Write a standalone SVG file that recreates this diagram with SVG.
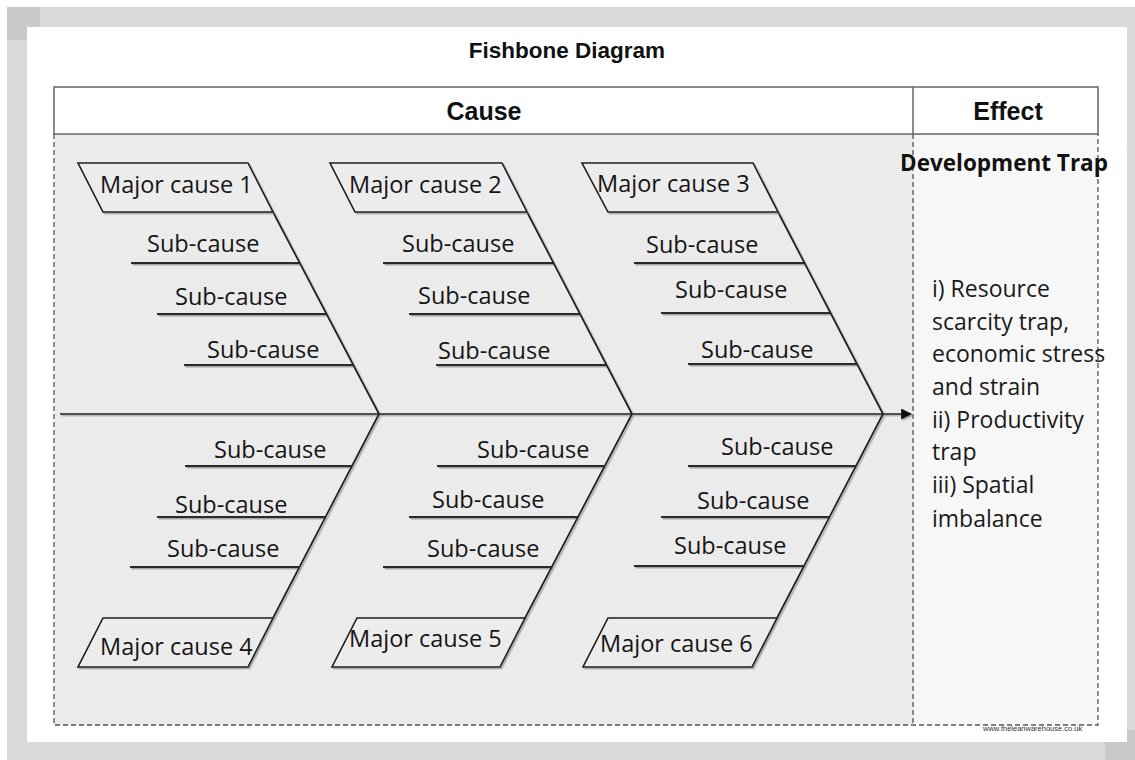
<svg xmlns="http://www.w3.org/2000/svg" width="1135" height="760" viewBox="0 0 1135 760">
<style>
.bone{stroke:#1e1e1e;stroke-width:1.7;fill:none}
.sub{stroke:#2a2a2a;stroke-width:2;fill:none}
.para{fill:#ececec;stroke:#1e1e1e;stroke-width:1.6}
.lbl{font-family:"Open Sans",sans-serif;font-size:23.5px;fill:#151515}
.eff{font-family:"Open Sans",sans-serif;font-size:23px;fill:#1a1a1a}
.hdr{font-family:"Liberation Sans",Arial,sans-serif;font-weight:bold;fill:#111}
.dash{stroke:#555;stroke-width:1.3;stroke-dasharray:5 3;fill:none}
</style>
<defs>
<filter id="sh" x="-5%" y="-5%" width="110%" height="110%">
<feDropShadow dx="1.5" dy="1.5" stdDeviation="0.7" flood-color="#777" flood-opacity="0.6"/>
</filter>
<marker id="arr" viewBox="0 0 10 10" refX="9" refY="5" markerWidth="11" markerHeight="11" markerUnits="userSpaceOnUse" orient="auto">
<path d="M0,0 L10,5 L0,10 Z" fill="#111"/>
</marker>
</defs>
<!-- page frame -->
<rect x="0" y="0" width="1135" height="760" fill="#ffffff"/>
<rect x="7" y="7" width="1128" height="753" fill="#d9d9d9"/>
<rect x="7" y="7" width="33" height="33" fill="#c9c9c9"/>
<rect x="1105" y="730" width="30" height="30" fill="#c9c9c9"/>
<rect x="27" y="27" width="1100" height="715" fill="#ffffff"/>
<!-- title -->
<text class="hdr" x="567" y="58" font-size="22.5" text-anchor="middle">Fishbone Diagram</text>
<!-- table -->
<rect x="54" y="134" width="859" height="591" fill="#ebebeb"/>
<rect x="913" y="134" width="185" height="591" fill="#f7f7f7"/>
<rect x="54" y="87" width="1044" height="47" fill="#ffffff" stroke="#666" stroke-width="1.5"/>
<line x1="913" y1="87" x2="913" y2="134" stroke="#666" stroke-width="1.5"/>
<path class="dash" d="M54,134 V725 H1098 V134"/>
<line class="dash" x1="913" y1="134" x2="913" y2="725"/>
<text class="hdr" x="484" y="120" font-size="25" text-anchor="middle">Cause</text>
<text class="hdr" x="1008" y="120" font-size="25" text-anchor="middle">Effect</text>
<!-- connectors -->
<g id="connectors" filter="url(#sh)">
<line class="bone" x1="60" y1="414" x2="911" y2="414" marker-end="url(#arr)"/>
<line class="bone" x1="273" y1="212" x2="379" y2="414"/>
<line class="bone" x1="527" y1="212" x2="632" y2="414"/>
<line class="bone" x1="778" y1="212" x2="883" y2="414"/>
<line class="bone" x1="379" y1="414" x2="273" y2="618"/>
<line class="bone" x1="632" y1="414" x2="525" y2="618"/>
<line class="bone" x1="883" y1="414" x2="777" y2="618"/>
<line class="sub" x1="131" y1="263" x2="300" y2="263"/>
<line class="sub" x1="157" y1="314" x2="326" y2="314"/>
<line class="sub" x1="184" y1="365" x2="353" y2="365"/>
<line class="sub" x1="383" y1="263" x2="553" y2="263"/>
<line class="sub" x1="409" y1="314" x2="580" y2="314"/>
<line class="sub" x1="436" y1="365" x2="606" y2="365"/>
<line class="sub" x1="634" y1="263" x2="804" y2="263"/>
<line class="sub" x1="661" y1="313" x2="830" y2="313"/>
<line class="sub" x1="688" y1="364" x2="857" y2="364"/>
<line class="sub" x1="185" y1="466" x2="352" y2="466"/>
<line class="sub" x1="157" y1="517" x2="325" y2="517"/>
<line class="sub" x1="130" y1="567" x2="300" y2="567"/>
<line class="sub" x1="437" y1="466" x2="605" y2="466"/>
<line class="sub" x1="409" y1="517" x2="578" y2="517"/>
<line class="sub" x1="383" y1="567" x2="552" y2="567"/>
<line class="sub" x1="688" y1="466" x2="856" y2="466"/>
<line class="sub" x1="661" y1="517" x2="829" y2="517"/>
<line class="sub" x1="634" y1="566" x2="804" y2="566"/>
</g>
<!-- major cause nodes -->
<g id="major1"><polygon class="para" filter="url(#sh)" points="78,163 248,163 273,212 103,212"/><text class="lbl" x="100" y="193">Major cause 1</text></g>
<g id="major2"><polygon class="para" filter="url(#sh)" points="330,163 502,163 527,212 355,212"/><text class="lbl" x="349" y="193">Major cause 2</text></g>
<g id="major3"><polygon class="para" filter="url(#sh)" points="582,163 753,163 778,212 608,212"/><text class="lbl" x="597" y="192">Major cause 3</text></g>
<g id="major4"><polygon class="para" filter="url(#sh)" points="103,618 273,618 248,667 78,667"/><text class="lbl" x="100" y="655">Major cause 4</text></g>
<g id="major5"><polygon class="para" filter="url(#sh)" points="357,618 525,618 500,667 332,667"/><text class="lbl" x="349" y="647">Major cause 5</text></g>
<g id="major6"><polygon class="para" filter="url(#sh)" points="608,618 777,618 752,667 583,667"/><text class="lbl" x="600" y="652">Major cause 6</text></g>
<!-- sub-cause labels -->
<g id="sub1"><text class="lbl" x="147" y="252">Sub-cause</text><text class="lbl" x="175" y="305">Sub-cause</text><text class="lbl" x="207" y="358">Sub-cause</text></g>
<g id="sub2"><text class="lbl" x="402" y="252">Sub-cause</text><text class="lbl" x="418" y="304">Sub-cause</text><text class="lbl" x="438" y="359">Sub-cause</text></g>
<g id="sub3"><text class="lbl" x="646" y="253">Sub-cause</text><text class="lbl" x="675" y="298">Sub-cause</text><text class="lbl" x="701" y="358">Sub-cause</text></g>
<g id="sub4"><text class="lbl" x="214" y="458">Sub-cause</text><text class="lbl" x="175" y="513">Sub-cause</text><text class="lbl" x="167" y="557">Sub-cause</text></g>
<g id="sub5"><text class="lbl" x="477" y="458">Sub-cause</text><text class="lbl" x="432" y="508">Sub-cause</text><text class="lbl" x="427" y="557">Sub-cause</text></g>
<g id="sub6"><text class="lbl" x="721" y="455">Sub-cause</text><text class="lbl" x="697" y="509">Sub-cause</text><text class="lbl" x="674" y="554">Sub-cause</text></g>
<!-- effect -->
<g id="effect">
<text x="900" y="171" font-family="'Open Sans',sans-serif" font-weight="bold" font-size="22.5" fill="#111">Development Trap</text>
<text class="eff" x="932" y="297">i) Resource</text>
<text class="eff" x="932" y="330">scarcity trap,</text>
<text class="eff" x="932" y="362">economic stress</text>
<text class="eff" x="932" y="395">and strain</text>
<text class="eff" x="932" y="428">ii) Productivity</text>
<text class="eff" x="932" y="460">trap</text>
<text class="eff" x="932" y="493">iii) Spatial</text>
<text class="eff" x="932" y="527">imbalance</text>
</g>
<text x="983" y="731" font-family="'Liberation Sans',Arial,sans-serif" font-size="7.5" fill="#333">www.theleanwarehouse.co.uk</text>
</svg>
